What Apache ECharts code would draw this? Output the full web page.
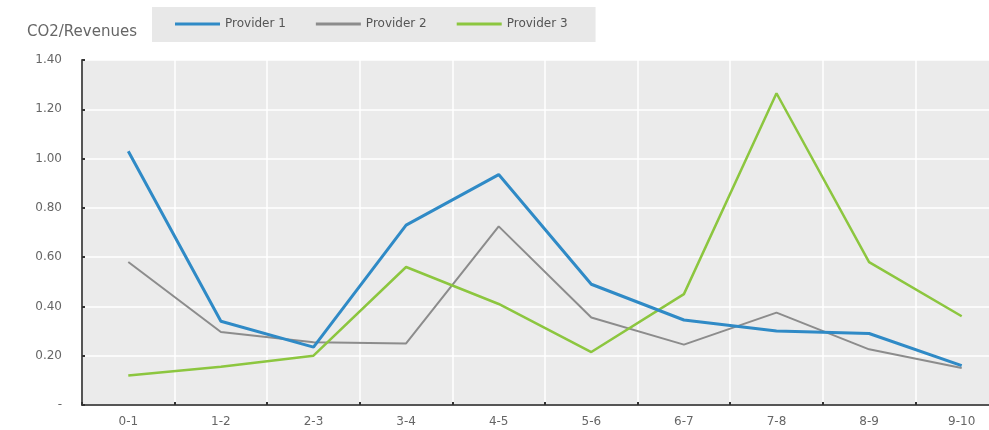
<!DOCTYPE html>
<html>
<head>
<meta charset="utf-8">
<script src="https://cdn.jsdelivr.net/npm/echarts@6/dist/echarts.min.js"></script>
<style>
html,body{margin:0;padding:0;background:#fff;}
#c{width:989px;height:430px;}
</style>
</head>
<body>
<div id="c"></div>
<script>
var categories = ['0-1','1-2','2-3','3-4','4-5','5-6','6-7','7-8','8-9','9-10'];
var provider1 = [1.03, 0.34, 0.235, 0.73, 0.935, 0.49, 0.345, 0.30, 0.29, 0.16];
var provider2 = [0.58, 0.296, 0.255, 0.25, 0.725, 0.355, 0.245, 0.375, 0.226, 0.15];
var provider3 = [0.12, 0.155, 0.20, 0.56, 0.41, 0.215, 0.45, 1.265, 0.58, 0.36];
var seriesNames = ['Provider 1','Provider 2','Provider 3'];
var yAxisName = 'CO2/Revenues';

var font = 'DejaVu Sans';
var chart = echarts.init(document.getElementById('c'));
chart.setOption({
  animation: false,
  backgroundColor: '#ffffff',
  color: ['#2f8ac6', '#8c8c8c', '#8cc63f'],
  legend: {
    left: 152, top: 7,
    padding: [11, 28, 12, 23],
    backgroundColor: '#e8e8e8',
    itemWidth: 45, itemHeight: 3, itemGap: 30,
    icon: 'rect',
    textStyle: {fontFamily: font, fontSize: 12, color: '#555'},
    data: seriesNames
  },
  grid: {left: 82, top: 60, width: 926, height: 345, show: true, backgroundColor: '#ebebeb', borderWidth: 0, outerBoundsMode: 'none', containLabel: false},
  xAxis: {
    type: 'category',
    data: categories,
    boundaryGap: true,
    axisLine: {lineStyle: {color: '#555', width: 2}},
    axisTick: {show: true, inside: true, length: 3, lineStyle: {color: '#333', width: 2}},
    axisLabel: {fontFamily: font, fontSize: 12, color: '#666', margin: 11},
    splitLine: {show: true, lineStyle: {color: '#ffffff', width: 1.5}}
  },
  yAxis: {
    type: 'value',
    min: 0, max: 1.4, interval: 0.2,
    name: yAxisName,
    nameLocation: 'end',
    nameGap: 20,
    nameTextStyle: {fontFamily: font, fontSize: 15, color: '#666', align: 'center'},
    axisLine: {show: true, lineStyle: {color: '#555', width: 2}},
    axisTick: {show: true, inside: true, length: 3, lineStyle: {color: '#333', width: 2}},
    axisLabel: {fontFamily: font, fontSize: 12, color: '#666', margin: 20,
      formatter: function (v) { return v === 0 ? '-' : v.toFixed(2); }},
    splitLine: {show: true, lineStyle: {color: '#ffffff', width: 1.5}}
  },
  series: [
    {name: seriesNames[0], type: 'line', data: provider1, symbol: 'none', lineStyle: {width: 3}, z: 3},
    {name: seriesNames[1], type: 'line', data: provider2, symbol: 'none', lineStyle: {width: 2}, z: 2},
    {name: seriesNames[2], type: 'line', data: provider3, symbol: 'none', lineStyle: {width: 2.5}, z: 2}
  ]
});
</script>
</body>
</html>
